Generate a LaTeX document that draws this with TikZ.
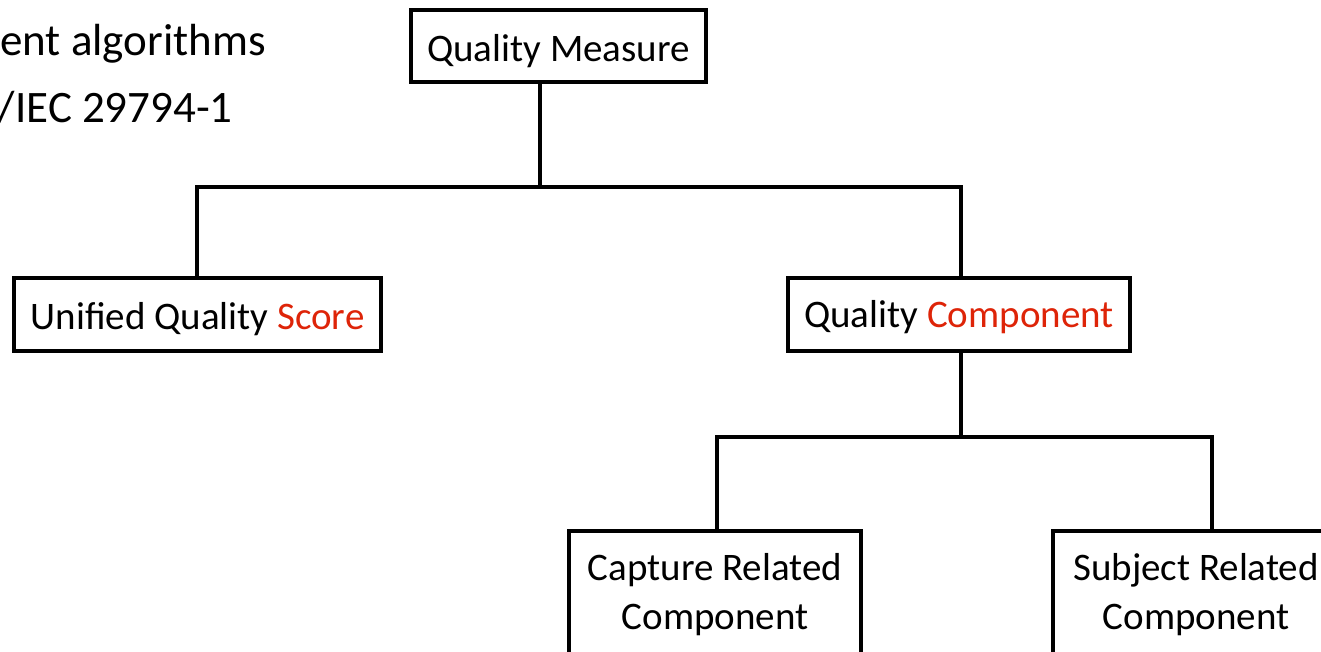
\documentclass[tikz,border=0pt]{standalone}
\usepackage{fontspec}
\setmainfont{Carlito}
\definecolor{accent}{RGB}{222,36,8}
\tikzset{
  box/.style={draw=black, line width=4pt, fill=white, inner sep=0pt, align=center,
    font=\fontsize{39}{49}\selectfont},
  onebox/.style={box, text depth=6pt},
  conn/.style={line width=4pt, line join=miter, line cap=rect},
  side/.style={inner sep=0pt, font=\fontsize{45}{50}\selectfont, anchor=base east}
}
\begin{document}
\begin{tikzpicture}[x=1pt, y=-1pt]
\useasboundingbox (0,0) rectangle (1321,651);

\node[side] (t1) at (266,55) {ent algorithms};
\node[side] (t2) at (233,122) {/IEC 29794-1};

\node[onebox, minimum width=295pt, minimum height=72pt, text height=36pt] (QM) at (558.5,46) {Quality Measure};
\node[onebox, minimum width=367pt, minimum height=73pt, text height=37pt] (UQS) at (197.5,314) {Unified Quality \textcolor{accent}{Score}};
\node[onebox, minimum width=342pt, minimum height=73pt, text height=32pt] (QC) at (959,314.5) {Quality \textcolor{accent}{Component}};
\node[box, minimum width=292pt, minimum height=128pt] (CRC) at (715,595) {Capture Related\\Component};
\node[box, minimum width=286pt, minimum height=128pt] (SRC) at (1196,595) {Subject Related\\Component};

\coordinate (j1) at (540,186.5);
\coordinate (jL) at (197,186.5);
\coordinate (jR) at (961,186.5);
\coordinate (j2) at (961,437);
\coordinate (kL) at (717,437);
\coordinate (kR) at (1212,437);

\draw[conn] (QM.south -| j1) -- (j1);
\draw[conn] (jL |- UQS.north) -- (jL) -- (jR) -- (jR |- QC.north);
\draw[conn] (QC.south -| j2) -- (j2);
\draw[conn] (kL |- CRC.north) -- (kL) -- (kR) -- (kR |- SRC.north);
\end{tikzpicture}
\end{document}
